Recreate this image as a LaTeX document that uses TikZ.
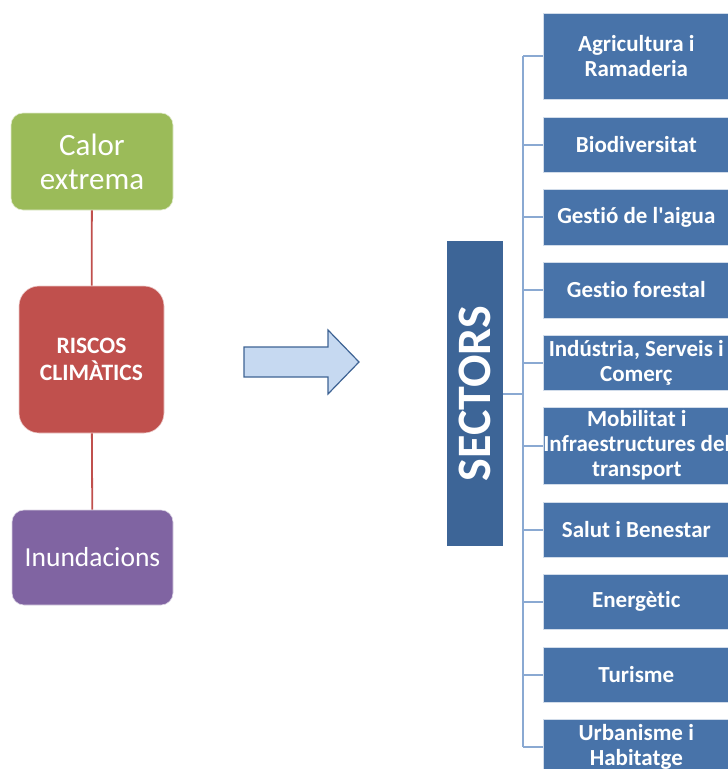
\documentclass[tikz,border=0pt]{standalone}
\usepackage{fontspec}
\setmainfont[Ligatures={TeX,NoCommon}]{Carlito}
\definecolor{cgreen}{HTML}{9BBB59}
\definecolor{cred}{HTML}{C0504D}
\definecolor{cpurple}{HTML}{8064A2}
\definecolor{secblue}{HTML}{4873A9}
\definecolor{secdark}{HTML}{3D6597}
\definecolor{busblue}{HTML}{8AA9D2}
\definecolor{arrfill}{HTML}{C6D9F1}
\definecolor{arrdraw}{HTML}{3E6394}
\begin{document}
\begin{tikzpicture}[x=1pt,y=-1pt,
  risk/.style={draw=white!70!#1, line width=0.6pt, fill=#1, text=white, align=center, inner sep=0pt},
  sec/.style={fill=secblue, draw=white!75!secblue, line width=0.6pt, text=white,
    font=\bfseries\fontsize{23}{25}\selectfont, align=center, minimum width=186pt, inner sep=0pt, anchor=west},
  redline/.style={draw=cred, line width=1.8pt},
  busline/.style={draw=busblue, line width=2pt}]
\useasboundingbox (0,0) rectangle (728,769);
\clip (0,0) rectangle (728,769);
% left column
\node[risk=cgreen, rounded corners=12pt, minimum width=162pt, minimum height=97pt,
  font=\fontsize{31}{34}\selectfont] (calor) at (92,161.5) {Calor\\extrema};
\node[risk=cred, rounded corners=20pt, minimum width=145pt, minimum height=147pt,
  font=\bfseries\fontsize{23.5}{27}\selectfont] (riscos) at (91.5,359.5) {RISCOS\\CLIMÀTICS};
\node[risk=cpurple, rounded corners=12pt, minimum width=161pt, minimum height=95pt,
  font=\fontsize{27.5}{34}\selectfont] (inund) at (92.5,557.5) {Inundacions};
\draw[redline] (calor) -- (riscos);
\draw[redline] (riscos) -- (inund);
% big arrow
\draw[fill=arrfill, draw=arrdraw, line width=1.2pt, line join=miter]
  (244,347) -- (328,347) -- (328,330) -- (359,362) -- (328,394) -- (328,377) -- (244,377) -- cycle;
% sectors
\node[fill=secdark, minimum width=56pt, minimum height=305pt, inner sep=0pt] (sectors) at (475,393.5) {};
\node[rotate=90, text=white, font=\bfseries\fontsize{48}{50}\selectfont] (sectxt) at (sectors.center) {SECTORS};
\node[sec, minimum height=86pt] (s1) at (543,56) {Agricultura i\\Ramaderia};
\node[sec, minimum height=55pt] (s2) at (543,144.5) {Biodiversitat};
\node[sec, minimum height=56pt] (s3) at (543,217) {Gestió de l\textquotesingle aigua};
\node[sec, minimum height=56pt] (s4) at (543,290) {Gestio forestal};
\node[sec, minimum height=55pt] (s5) at (543,362.5) {Indústria, Serveis i\\Comerç};
\node[sec, minimum height=77pt] (s6) at (543,445.5) {Mobilitat i\\Infraestructures del\\transport};
\node[sec, minimum height=55pt] (s7) at (543,529.5) {Salut i Benestar};
\node[sec, minimum height=55pt] (s8) at (543,601.5) {Energètic};
\node[sec, minimum height=55pt] (s9) at (543,674.5) {Turisme};
\node[sec, minimum height=55pt] (s10) at (543,746.5) {Urbanisme i\\Habitatge};
\coordinate (bus) at (523,394);
\draw[busline] (sectors.east |- bus) -- (bus);
\draw[busline] (s1.west -| bus) -- (s10.west -| bus);
\foreach \i in {1,...,10} {\draw[busline] (s\i.west -| bus) -- (s\i.west);}
\end{tikzpicture}
\end{document}
